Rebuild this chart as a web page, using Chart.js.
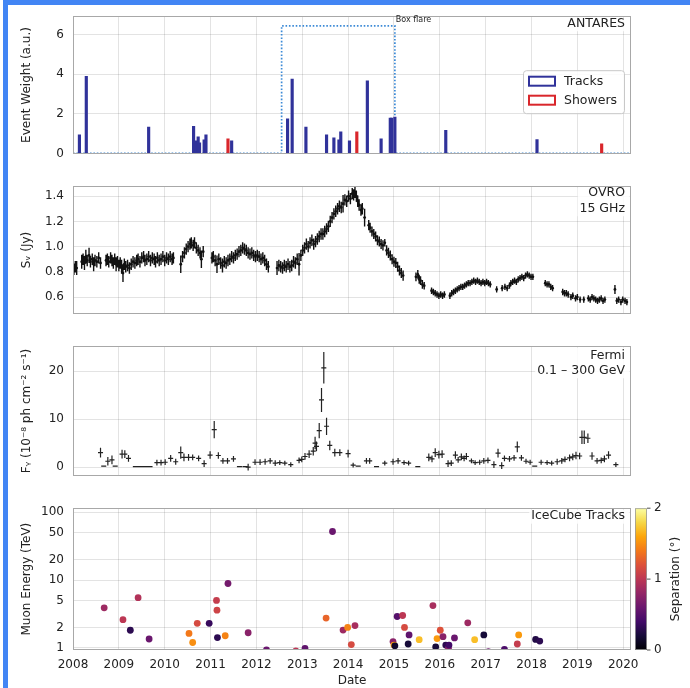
<!DOCTYPE html>
<html>
<head>
<meta charset="utf-8">
<script src="https://cdn.jsdelivr.net/npm/chart.js@4.4.1/dist/chart.umd.min.js"></script>
<style>
  body { margin: 0; background: #fff; }
  #wrap { position: relative; width: 690px; height: 688px; overflow: hidden; background: #fff; }
  #frame { position: absolute; left: 3px; top: 0; width: 687px; height: 688px; box-sizing: border-box;
           border-top: 5px solid #4285f4; border-left: 5px solid #4285f4; pointer-events: none; }
  canvas { position: absolute; left: 0; }
</style>
</head>
<body>
<div id="wrap">
  <canvas id="antares" width="690" height="170" style="top:0px"></canvas>
  <canvas id="ovro" width="690" height="160" style="top:170px"></canvas>
  <canvas id="fermi" width="690" height="162" style="top:330px"></canvas>
  <canvas id="icecube" width="690" height="196" style="top:492px"></canvas>
  <div id="frame"></div>
</div>
<script>
// ---- data ----
const years = [2008, 2009, 2010, 2011, 2012, 2013, 2014, 2015, 2016, 2017, 2018, 2019, 2020];
const antaresTicks = [0, 2, 4, 6];
const ovroTicks = [0.6, 0.8, 1.0, 1.2, 1.4];
const fermiTicks = [0, 10, 20];
const energyTicks = [1, 2, 5, 10, 20, 50, 100];
const sepTicks = [0, 1, 2];

// [date, event weight]
const antaresTracks = [
  [2008.14, 0.94], [2008.29, 3.89], [2009.65, 1.33], [2010.63, 1.37], [2010.69, 0.64],
  [2010.73, 0.84], [2010.76, 0.53], [2010.86, 0.68], [2010.90, 0.94], [2011.46, 0.64],
  [2012.68, 1.74], [2012.78, 3.75], [2013.08, 1.33], [2013.53, 0.94], [2013.69, 0.79],
  [2013.80, 0.68], [2013.84, 1.09], [2014.03, 0.64], [2014.42, 3.66], [2014.72, 0.74],
  [2014.92, 1.78], [2014.95, 1.78], [2015.02, 1.83], [2016.13, 1.17], [2018.12, 0.70]
];
const antaresShowers = [[2011.38, 0.74], [2014.19, 1.09], [2019.53, 0.48]];
const boxFlareDates = [2008, 2012.55, 2012.55, 2015.02, 2015.02, 2020.2];
const boxFlareLevel = [0, 0, 6.43, 6.43, 0, 0];

// [date, flux (Jy), error]
const ovroPoints = [
  [2008.02,0.82,0.045],[2008.05,0.84,0.045],[2008.08,0.83,0.055],[2008.19,0.88,0.055],[2008.22,0.90,0.045],
  [2008.25,0.87,0.055],[2008.28,0.92,0.055],[2008.31,0.89,0.045],[2008.35,0.93,0.06],[2008.38,0.88,0.045],
  [2008.42,0.90,0.045],[2008.45,0.86,0.055],[2008.48,0.89,0.045],[2008.52,0.88,0.045],[2008.56,0.91,0.045],
  [2008.60,0.87,0.045],[2008.72,0.89,0.045],[2008.75,0.90,0.045],[2008.78,0.88,0.045],[2008.82,0.91,0.045],
  [2008.85,0.89,0.045],[2008.88,0.87,0.045],[2008.91,0.90,0.045],[2008.94,0.86,0.055],[2008.97,0.88,0.045],
  [2009.00,0.85,0.045],[2009.03,0.87,0.045],[2009.06,0.84,0.055],[2009.09,0.79,0.07],[2009.12,0.86,0.045],
  [2009.15,0.84,0.045],[2009.19,0.85,0.045],[2009.23,0.83,0.045],[2009.27,0.86,0.045],[2009.31,0.88,0.045],
  [2009.35,0.87,0.045],[2009.39,0.89,0.045],[2009.42,0.90,0.045],[2009.46,0.88,0.045],[2009.50,0.91,0.045],
  [2009.54,0.92,0.045],[2009.57,0.89,0.045],[2009.61,0.90,0.045],[2009.65,0.92,0.045],[2009.69,0.89,0.045],
  [2009.73,0.91,0.045],[2009.77,0.90,0.045],[2009.80,0.88,0.045],[2009.84,0.91,0.045],[2009.88,0.89,0.045],
  [2009.92,0.90,0.045],[2009.96,0.92,0.045],[2010.00,0.89,0.045],[2010.04,0.91,0.045],[2010.08,0.90,0.045],
  [2010.12,0.92,0.045],[2010.16,0.90,0.045],[2010.19,0.91,0.045],
  [2010.35,0.86,0.07],[2010.39,0.92,0.045],[2010.43,0.95,0.045],[2010.47,0.98,0.045],[2010.51,1.00,0.045],
  [2010.55,1.02,0.045],[2010.58,1.03,0.045],[2010.62,1.01,0.045],[2010.65,1.03,0.045],[2010.69,0.99,0.045],
  [2010.73,0.97,0.045],[2010.77,0.95,0.045],[2010.80,0.90,0.07],[2010.84,0.96,0.045],
  [2011.03,0.91,0.045],[2011.06,0.92,0.045],[2011.10,0.89,0.045],[2011.14,0.86,0.07],[2011.18,0.90,0.045],
  [2011.22,0.87,0.045],[2011.26,0.85,0.055],[2011.30,0.88,0.045],[2011.34,0.87,0.045],[2011.38,0.89,0.045],
  [2011.42,0.90,0.045],[2011.46,0.92,0.045],[2011.50,0.91,0.045],[2011.54,0.93,0.045],[2011.58,0.94,0.045],
  [2011.62,0.96,0.045],[2011.66,0.97,0.045],[2011.70,0.99,0.045],[2011.74,0.98,0.045],[2011.78,0.97,0.045],
  [2011.82,0.95,0.045],[2011.86,0.94,0.045],[2011.90,0.95,0.045],[2011.94,0.93,0.045],[2011.98,0.92,0.045],
  [2012.02,0.93,0.045],[2012.06,0.92,0.045],[2012.10,0.90,0.045],[2012.14,0.91,0.045],[2012.18,0.89,0.045],
  [2012.22,0.86,0.045],[2012.26,0.84,0.045],
  [2012.45,0.83,0.055],[2012.49,0.85,0.045],[2012.53,0.84,0.045],[2012.57,0.83,0.045],[2012.61,0.85,0.045],
  [2012.65,0.84,0.045],[2012.69,0.86,0.045],[2012.73,0.84,0.045],[2012.77,0.85,0.045],[2012.81,0.88,0.045],
  [2012.85,0.87,0.045],[2012.89,0.90,0.045],[2012.93,0.86,0.09],[2012.97,0.93,0.045],[2013.01,0.97,0.045],
  [2013.05,0.99,0.045],[2013.09,1.02,0.045],[2013.13,1.00,0.045],[2013.17,1.03,0.045],[2013.21,1.05,0.045],
  [2013.25,1.02,0.045],[2013.29,1.04,0.045],[2013.33,1.06,0.045],[2013.37,1.08,0.045],[2013.41,1.10,0.045],
  [2013.45,1.10,0.045],[2013.49,1.12,0.045],[2013.53,1.14,0.045],[2013.57,1.16,0.045],[2013.61,1.20,0.045],
  [2013.65,1.23,0.045],[2013.69,1.26,0.045],[2013.73,1.28,0.045],[2013.77,1.30,0.045],[2013.81,1.32,0.045],
  [2013.85,1.31,0.045],[2013.89,1.34,0.07],[2013.93,1.37,0.045],[2013.97,1.36,0.045],[2014.01,1.40,0.045],
  [2014.05,1.38,0.045],[2014.09,1.42,0.045],[2014.12,1.41,0.045],[2014.15,1.43,0.045],[2014.18,1.40,0.045],
  [2014.21,1.36,0.045],[2014.24,1.33,0.045],[2014.28,1.29,0.045],[2014.31,1.30,0.045],[2014.36,1.23,0.07],
  [2014.45,1.17,0.04],[2014.48,1.15,0.04],[2014.52,1.12,0.04],[2014.56,1.10,0.04],[2014.60,1.08,0.04],
  [2014.64,1.05,0.04],[2014.68,1.04,0.04],[2014.72,1.02,0.04],[2014.76,1.01,0.04],[2014.80,1.03,0.03],
  [2014.84,0.97,0.04],[2014.88,0.95,0.04],[2014.92,0.93,0.04],[2014.96,0.90,0.04],[2015.00,0.88,0.04],
  [2015.04,0.87,0.04],[2015.08,0.84,0.04],[2015.12,0.81,0.04],[2015.16,0.79,0.04],[2015.20,0.77,0.04],
  [2015.48,0.76,0.035],[2015.52,0.78,0.035],[2015.55,0.74,0.035],[2015.58,0.73,0.035],[2015.62,0.70,0.035],
  [2015.66,0.69,0.03],
  [2015.82,0.65,0.025],[2015.86,0.64,0.025],[2015.90,0.63,0.025],[2015.94,0.62,0.025],[2015.98,0.61,0.025],
  [2016.02,0.62,0.025],[2016.06,0.61,0.025],[2016.10,0.62,0.025],
  [2016.22,0.61,0.025],[2016.26,0.63,0.025],[2016.30,0.64,0.025],[2016.34,0.65,0.025],[2016.38,0.66,0.025],
  [2016.42,0.67,0.025],[2016.46,0.68,0.025],[2016.50,0.68,0.025],[2016.54,0.69,0.025],[2016.58,0.70,0.025],
  [2016.62,0.71,0.025],[2016.66,0.71,0.025],[2016.70,0.72,0.025],[2016.74,0.73,0.025],[2016.78,0.72,0.025],
  [2016.82,0.73,0.025],[2016.86,0.72,0.025],[2016.90,0.71,0.025],[2016.94,0.72,0.025],[2016.98,0.71,0.025],
  [2017.02,0.72,0.025],[2017.06,0.71,0.025],[2017.10,0.70,0.025],
  [2017.24,0.66,0.025],[2017.36,0.67,0.025],[2017.42,0.68,0.025],[2017.47,0.67,0.025],[2017.52,0.69,0.025],
  [2017.55,0.71,0.025],[2017.59,0.72,0.025],[2017.63,0.73,0.025],[2017.67,0.72,0.025],[2017.71,0.74,0.025],
  [2017.75,0.75,0.025],[2017.79,0.76,0.025],[2017.83,0.75,0.025],[2017.87,0.77,0.025],[2017.91,0.78,0.025],
  [2017.95,0.77,0.025],[2017.99,0.76,0.025],[2018.03,0.76,0.025],
  [2018.30,0.71,0.025],[2018.34,0.70,0.025],[2018.38,0.70,0.025],[2018.42,0.68,0.025],[2018.46,0.67,0.025],
  [2018.68,0.64,0.025],[2018.72,0.63,0.025],[2018.76,0.63,0.025],[2018.80,0.62,0.025],[2018.86,0.60,0.025],
  [2018.90,0.61,0.025],[2018.96,0.59,0.025],[2019.00,0.60,0.025],[2019.06,0.58,0.025],[2019.14,0.58,0.025],
  [2019.24,0.59,0.025],[2019.28,0.58,0.025],[2019.32,0.60,0.025],[2019.36,0.59,0.025],[2019.40,0.58,0.025],
  [2019.44,0.57,0.025],[2019.48,0.58,0.025],[2019.52,0.59,0.025],[2019.56,0.57,0.025],[2019.60,0.58,0.025],
  [2019.82,0.66,0.035],[2019.86,0.57,0.025],[2019.90,0.58,0.025],[2019.95,0.56,0.025],[2019.99,0.58,0.025],
  [2020.04,0.57,0.025],[2020.08,0.56,0.025]
];

// [bin centre, flux (1e-8 ph cm^-2 s^-1), error]
const fermiPoints = [
  [2008.60,3.0,1.0],[2008.67,0.2,0],[2008.76,1.2,0.9],[2008.85,1.5,0.9],[2008.92,0.2,0],
  [2009.07,2.7,0.9],[2009.13,2.7,0.8],[2009.21,1.8,0.7],[2009.36,0.1,0],[2009.47,0.1,0],
  [2009.58,0.1,0],[2009.68,0.1,0],[2009.83,0.9,0.6],[2009.92,0.9,0.6],[2010.01,1.0,0.6],
  [2010.13,1.8,0.7],[2010.24,1.1,0.6],[2010.35,3.0,1.3],[2010.42,2.0,0.8],[2010.52,2.0,0.7],
  [2010.61,2.0,0.6],[2010.74,1.8,0.6],[2010.86,0.7,0.7],[2010.99,2.5,0.8],[2011.08,7.8,1.8],
  [2011.17,2.4,0.7],[2011.27,1.3,0.6],[2011.37,1.3,0.6],[2011.50,1.7,0.6],[2011.63,0.1,0],
  [2011.75,0.1,0],[2011.82,0.0,0.7],[2011.97,1.0,0.6],[2012.08,1.0,0.6],[2012.19,1.1,0.6],
  [2012.30,1.3,0.6],[2012.41,0.8,0.6],[2012.51,0.9,0.5],[2012.62,0.8,0.5],[2012.75,0.5,0.5],
  [2012.93,1.4,0.6],[2012.99,1.6,0.6],[2013.06,2.2,0.7],[2013.15,2.7,0.8],[2013.24,3.3,0.9],
  [2013.28,5.0,1.3],[2013.31,4.3,1.0],[2013.37,7.6,1.6],[2013.42,14.0,2.5],[2013.47,20.7,3.3],
  [2013.53,8.5,1.8],[2013.60,4.5,1.0],[2013.71,3.0,0.8],[2013.82,3.0,0.7],[2014.00,2.8,0.8],
  [2014.11,0.4,0.5],[2014.22,0.2,0],[2014.40,1.3,0.6],[2014.47,1.3,0.6],[2014.62,0.1,0],
  [2014.80,0.8,0.5],[2014.98,1.1,0.6],[2015.09,1.3,0.6],[2015.22,0.9,0.5],[2015.32,0.8,0.5],
  [2015.52,0.1,0],[2015.76,2.0,0.8],[2015.83,1.7,0.7],[2015.90,3.0,0.9],[2015.98,2.6,0.8],
  [2016.05,2.7,0.8],[2016.18,0.7,0.7],[2016.25,0.8,0.6],[2016.34,2.5,0.8],[2016.40,1.5,0.6],
  [2016.47,2.1,0.7],[2016.53,1.8,0.6],[2016.58,2.2,0.7],[2016.69,1.3,0.5],[2016.77,0.9,0.5],
  [2016.87,1.0,0.5],[2016.96,1.3,0.6],[2017.05,1.4,0.6],[2017.18,0.5,0.7],[2017.27,2.9,0.9],
  [2017.35,0.3,0.7],[2017.41,1.8,0.6],[2017.52,1.7,0.6],[2017.62,1.9,0.6],[2017.69,4.2,1.1],
  [2017.78,1.9,0.6],[2017.88,1.2,0.5],[2017.97,1.0,0.5],[2018.07,0.2,0],[2018.21,1.0,0.5],
  [2018.34,0.9,0.5],[2018.44,0.8,0.5],[2018.56,1.1,0.6],[2018.66,1.3,0.6],[2018.73,1.6,0.6],
  [2018.83,1.9,0.7],[2018.90,2.1,0.7],[2018.97,2.4,0.8],[2019.05,2.3,0.7],[2019.10,6.2,1.4],
  [2019.15,6.2,1.4],[2019.23,6.0,1.0],[2019.32,2.3,0.8],[2019.43,1.3,0.6],[2019.52,1.4,0.6],
  [2019.59,1.7,0.7],[2019.68,2.5,0.8],[2019.84,0.5,0.5]
];
const fermiHalfBin = 0.055;

// [date, muon energy (TeV), separation (deg)]
const icecubeTracks = [
  [2008.68,3.9,0.85],[2009.09,2.6,1.0],[2009.25,1.82,0.3],[2009.42,5.5,0.95],[2009.66,1.35,0.6],
  [2010.53,1.63,1.4],[2010.61,1.2,1.5],[2010.71,2.3,1.15],[2010.97,2.3,0.35],[2011.13,5.0,1.05],
  [2011.14,3.6,1.1],[2011.15,1.42,0.3],[2011.32,1.51,1.45],[2011.38,8.9,0.65],[2011.82,1.67,0.75],
  [2012.22,0.93,0.6],[2012.86,0.9,1.0],[2013.06,0.98,0.55],[2013.52,2.75,1.3],[2013.66,52,0.6],
  [2013.89,1.83,0.85],[2013.99,2.0,1.45],[2014.07,1.12,1.15],[2014.15,2.13,0.9],[2014.98,1.24,0.75],
  [2015.00,1.1,1.55],[2015.02,1.07,0.15],[2015.07,2.9,0.5],[2015.19,3.0,1.0],[2015.23,2.0,1.15],
  [2015.31,1.14,0.2],[2015.33,1.55,0.55],[2015.55,1.32,1.7],[2015.85,4.2,0.9],[2015.91,1.03,0.2],
  [2015.94,1.37,1.55],[2016.01,1.82,1.2],[2016.07,1.46,0.75],[2016.13,1.1,0.3],[2016.19,0.98,0.75],
  [2016.20,1.1,0.4],[2016.32,1.4,0.6],[2016.61,2.34,0.85],[2016.76,1.32,1.7],[2016.96,1.55,0.2],
  [2017.06,0.88,0.6],[2017.41,0.95,0.45],[2017.69,1.14,1.05],[2017.72,1.55,1.55],[2018.09,1.33,0.25],
  [2018.18,1.26,0.3]
];

// ---- styling helpers ----
Chart.defaults.font.family = "'DejaVu Sans', sans-serif";
Chart.defaults.font.size = 12;
Chart.defaults.color = '#222';

const gridColor = 'rgba(0,0,0,0.11)';
const trackColor = '#30329a';
const showerColor = '#d9262b';
const infernoStops = ['#000004','#160b39','#420a68','#6a176e','#932667','#bc3754',
                      '#dd513a','#f37819','#fca50a','#f6d746','#fcffa4'];

function hexRgb(h) {
  return [parseInt(h.slice(1, 3), 16), parseInt(h.slice(3, 5), 16), parseInt(h.slice(5, 7), 16)];
}
function inferno(t) {
  t = Math.min(1, Math.max(0, t));
  const p = t * 10, i = Math.min(9, Math.floor(p)), f = p - i;
  const a = hexRgb(infernoStops[i]), b = hexRgb(infernoStops[i + 1]);
  const c = a.map((v, k) => Math.round(v + (b[k] - v) * f));
  return `rgb(${c[0]},${c[1]},${c[2]})`;
}

// ---- plugins ----
const frame = {
  id: 'frame',
  afterDraw(chart) {
    const { ctx, chartArea: a } = chart;
    ctx.save();
    ctx.strokeStyle = '#a8a8a8';
    ctx.lineWidth = 1;
    ctx.strokeRect(Math.round(a.left) + 0.5, Math.round(a.top) + 0.5,
                   Math.round(a.right - a.left) - 1, Math.round(a.bottom - a.top) - 1);
    ctx.restore();
  }
};

const errorBars = {
  id: 'errorBars',
  afterDatasetsDraw(chart) {
    const { ctx, chartArea: a, scales: { x, y } } = chart;
    ctx.save();
    ctx.beginPath();
    ctx.rect(a.left, a.top, a.right - a.left, a.bottom - a.top);
    ctx.clip();
    chart.data.datasets.forEach(ds => {
      if (!ds.errorStyle) return;
      ctx.strokeStyle = ds.errorStyle.color;
      ctx.lineWidth = ds.errorStyle.width;
      ctx.beginPath();
      ds.data.forEach(p => {
        const px = x.getPixelForValue(p.x), py = y.getPixelForValue(p.y);
        if (p.ey) {
          ctx.moveTo(px, y.getPixelForValue(p.y - p.ey));
          ctx.lineTo(px, y.getPixelForValue(p.y + p.ey));
        }
        if (p.ex) {
          ctx.moveTo(x.getPixelForValue(p.x - p.ex), py);
          ctx.lineTo(x.getPixelForValue(p.x + p.ex), py);
        }
      });
      ctx.stroke();
    });
    ctx.restore();
  }
};

const panelLabel = {
  id: 'panelLabel',
  afterDraw(chart, args, opts) {
    if (!opts.lines) return;
    const { ctx, chartArea: a } = chart;
    ctx.save();
    ctx.font = "12.5px 'DejaVu Sans', sans-serif";
    ctx.textAlign = 'right';
    ctx.textBaseline = 'middle';
    const w = Math.max(...opts.lines.map(l => ctx.measureText(l).width));
    ctx.fillStyle = 'rgba(255,255,255,0.85)';
    ctx.fillRect(a.right - 8 - w, a.top + 1.5, w + 6.5, opts.y0 + opts.dy * (opts.lines.length - 1) + 6);
    ctx.fillStyle = '#222';
    opts.lines.forEach((l, i) => ctx.fillText(l, a.right - 6, a.top + opts.y0 + i * opts.dy));
    ctx.restore();
  }
};

const boxNote = {
  id: 'boxNote',
  afterDraw(chart, args, opts) {
    if (!opts.text) return;
    const { ctx, scales: { x, y } } = chart;
    ctx.save();
    ctx.font = "8px 'DejaVu Sans', sans-serif";
    ctx.fillStyle = '#222';
    ctx.textBaseline = 'middle';
    ctx.fillText(opts.text, x.getPixelForValue(opts.x) + 1, y.getPixelForValue(opts.y) - 5.5);
    ctx.restore();
  }
};

const boxLegend = {
  id: 'boxLegend',
  afterDraw(chart, args, opts) {
    if (!opts.display) return;
    const { ctx, chartArea: a } = chart;
    const items = chart.data.datasets.filter(d => d.inLegend);
    ctx.save();
    const x0 = a.right - 108, y0 = a.top + 54, w = 101, h = 43;
    ctx.fillStyle = 'rgba(255,255,255,0.85)';
    ctx.strokeStyle = '#c8c8c8';
    ctx.lineWidth = 1;
    ctx.beginPath();
    ctx.roundRect(x0 + 0.5, y0 + 0.5, w, h, 3);
    ctx.fill();
    ctx.stroke();
    ctx.font = "12.5px 'DejaVu Sans', sans-serif";
    ctx.textBaseline = 'middle';
    items.forEach((d, i) => {
      const cy = y0 + 11 + i * 19;
      ctx.strokeStyle = d.backgroundColor;
      ctx.lineWidth = 2;
      ctx.strokeRect(x0 + 6, cy - 4.5, 26, 9);
      ctx.fillStyle = '#222';
      ctx.fillText(d.label, x0 + 41, cy + 0.5);
    });
    ctx.restore();
  }
};

const colorBar = {
  id: 'colorBar',
  afterDraw(chart, args, opts) {
    if (!opts.display) return;
    const { ctx, chartArea: a } = chart;
    const x0 = a.right + 4, bw = 12, top = a.top, bot = a.bottom;
    ctx.save();
    const g = ctx.createLinearGradient(0, bot, 0, top);
    infernoStops.forEach((c, k) => g.addColorStop(k / (infernoStops.length - 1), c));
    ctx.fillStyle = g;
    ctx.fillRect(x0, top, bw, bot - top);
    ctx.strokeStyle = '#999';
    ctx.lineWidth = 0.8;
    ctx.strokeRect(x0 + 0.5, top + 0.5, bw - 1, bot - top - 1);
    ctx.strokeStyle = '#222';
    ctx.fillStyle = '#222';
    ctx.font = "12px 'DejaVu Sans', sans-serif";
    ctx.textBaseline = 'middle';
    const maxV = sepTicks[sepTicks.length - 1];
    sepTicks.forEach(v => {
      const py = bot - (v / maxV) * (bot - top);
      ctx.beginPath();
      ctx.moveTo(x0 + bw, py);
      ctx.lineTo(x0 + bw + 3.5, py);
      ctx.stroke();
      ctx.fillText(String(v), x0 + bw + 7, py);
    });
    ctx.translate(676, (top + bot) / 2);
    ctx.rotate(-Math.PI / 2);
    ctx.textAlign = 'center';
    ctx.fillText(opts.title, 0, 0);
    ctx.restore();
  }
};

// ---- common panel options ----
function panelOptions(o) {
  return {
    responsive: false,
    animation: false,
    events: [],
    layout: { padding: o.padding },
    plugins: {
      legend: { display: false },
      tooltip: { enabled: false },
      panelLabel: o.label,
      boxNote: o.note || {},
      boxLegend: { display: !!o.legend },
      colorBar: o.colorBar || { display: false }
    },
    scales: {
      x: {
        type: 'linear', min: 2008, max: 2020.17, offset: false,
        afterBuildTicks: s => { s.ticks = years.map(v => ({ value: v })); },
        afterFit: s => { s.height = o.xHeight; },
        grid: { color: gridColor, drawTicks: false, offset: false },
        border: { display: false },
        ticks: { display: o.xLabels, padding: 8, maxRotation: 0, autoSkip: false, color: '#222',
                 callback: v => String(v) },
        title: { display: o.xLabels, text: 'Date', padding: 0, color: '#222' }
      },
      y: {
        type: o.yType || 'linear', min: o.yMin, max: o.yMax,
        afterBuildTicks: s => { s.ticks = o.yTicks.map(v => ({ value: v })); },
        afterFit: s => { s.width = 73; },
        grid: { color: gridColor, drawTicks: false },
        border: { display: false },
        ticks: { padding: 9, autoSkip: false, color: '#222', callback: o.fmt || (v => String(v)) },
        title: { display: true, text: o.yTitle, color: '#222', padding: { top: 20, bottom: 0 } }
      }
    }
  };
}

// ---- ANTARES ----
new Chart(document.getElementById('antares'), {
  type: 'bar',
  data: {
    datasets: [
      { label: 'Tracks', inLegend: true, data: antaresTracks.map(([x, y]) => ({ x, y })),
        backgroundColor: trackColor, borderWidth: 0, barThickness: 2.5, grouped: false },
      { label: 'Showers', inLegend: true, data: antaresShowers.map(([x, y]) => ({ x, y })),
        backgroundColor: showerColor, borderWidth: 0, barThickness: 2.5, grouped: false },
      { type: 'line', label: 'Box flare', data: boxFlareDates.map((x, i) => ({ x, y: boxFlareLevel[i] })),
        borderColor: '#3c8ad6', borderWidth: 1.7, borderDash: [1.6, 1.8], pointRadius: 0,
        fill: false, tension: 0 }
    ]
  },
  options: panelOptions({
    padding: { left: 0, right: 59, top: 10, bottom: 9 },
    xHeight: 0, xLabels: false,
    yMin: -0.02, yMax: 6.92, yTicks: antaresTicks, yTitle: 'Event Weight (a.u.)',
    label: { lines: ['ANTARES'], y0: 7.5, dy: 15 },
    note: { text: 'Box flare', x: 2015.02, y: 6.43 },
    legend: true
  }),
  plugins: [errorBars, frame, panelLabel, boxNote, boxLegend]
});

// ---- OVRO ----
new Chart(document.getElementById('ovro'), {
  type: 'scatter',
  data: {
    datasets: [{
      label: 'OVRO', data: ovroPoints.map(([x, y, ey]) => ({ x, y, ey })),
      pointRadius: 1.4, backgroundColor: '#111', borderWidth: 0,
      errorStyle: { color: '#111', width: 1.4 }
    }]
  },
  options: panelOptions({
    padding: { left: 0, right: 59, top: 4, bottom: 6 },
    xHeight: 0, xLabels: false,
    yMin: 0.467, yMax: 1.479, yTicks: ovroTicks, yTitle: 'S\u1D65 (Jy)',
    fmt: v => v.toFixed(1),
    label: { lines: ['OVRO', '15 GHz'], y0: 6.5, dy: 16 }
  }),
  plugins: [errorBars, frame, panelLabel]
});

// ---- Fermi ----
new Chart(document.getElementById('fermi'), {
  type: 'scatter',
  data: {
    datasets: [{
      label: 'Fermi', data: fermiPoints.map(([x, y, ey]) => ({ x, y, ey, ex: fermiHalfBin })),
      pointRadius: 0, backgroundColor: '#222', borderWidth: 0,
      errorStyle: { color: '#222', width: 1.2 }
    }]
  },
  options: panelOptions({
    padding: { left: 0, right: 59, top: 5, bottom: 5 },
    xHeight: 0, xLabels: false,
    yMin: -1.83, yMax: 25.2, yTicks: fermiTicks,
    yTitle: 'F\u1D67 (10\u207B\u2078 ph cm\u207B\u00B2 s\u207B\u00B9)',
    label: { lines: ['Fermi', '0.1 \u2013 300 GeV'], y0: 10, dy: 14.5 }
  }),
  plugins: [errorBars, frame, panelLabel]
});

// ---- IceCube ----
new Chart(document.getElementById('icecube'), {
  type: 'scatter',
  data: {
    datasets: [{
      label: 'IceCube Tracks', data: icecubeTracks.map(([x, y]) => ({ x, y })),
      pointRadius: 3.4, borderWidth: 0, clip: 0,
      backgroundColor: icecubeTracks.map(r => inferno(r[2] / sepTicks[sepTicks.length - 1]))
    }]
  },
  options: panelOptions({
    padding: { left: 0, right: 59, top: 7, bottom: 0 },
    xHeight: 38, xLabels: true,
    yType: 'logarithmic', yMin: 0.93, yMax: 114.7, yTicks: energyTicks, yTitle: 'Muon Energy (TeV)',
    label: { lines: ['IceCube Tracks'], y0: 8, dy: 15 },
    colorBar: { display: true, title: 'Separation (\u00B0)' }
  }),
  plugins: [frame, panelLabel, colorBar]
});
</script>
</body>
</html>
